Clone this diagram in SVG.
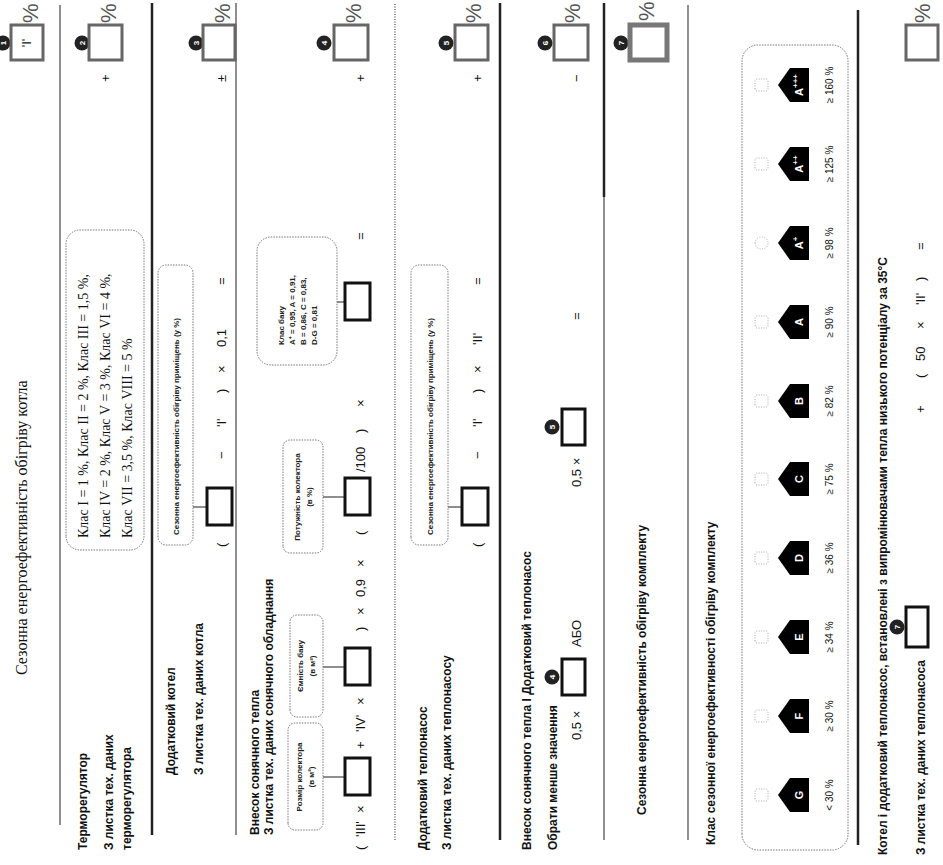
<svg xmlns="http://www.w3.org/2000/svg" width="943" height="865" viewBox="0 0 943 865">
<style>
.lbl{font-family:"Liberation Sans",Arial,sans-serif;font-size:12px;font-weight:bold;fill:#111}
.f{font-family:"Liberation Sans",Arial,sans-serif;font-size:13px;fill:#111}
.pc{font-family:"Liberation Sans",Arial,sans-serif;font-size:22px;fill:#555}
.ser{font-family:"Liberation Serif","Times New Roman",serif;fill:#111}
.sm{font-family:"Liberation Sans",Arial,sans-serif;font-size:8px;font-weight:bold;fill:#222}
.res{fill:#fff;stroke:#666;stroke-width:3}
.inp{fill:#fff;stroke:#111;stroke-width:3}
.dot{fill:none;stroke:#777;stroke-width:1;stroke-dasharray:1.5 1.2}
.thin{stroke:#444;stroke-width:1.2}
.thick{stroke:#222;stroke-width:2.5}
.mk{fill:#222}
.mkt{font-family:"Liberation Sans",Arial,sans-serif;font-size:8px;font-weight:bold;fill:#fff;text-anchor:middle}
.clt{font-family:"Liberation Sans",Arial,sans-serif;font-size:11px;font-weight:bold;fill:#fff;text-anchor:middle}
.chk{fill:none;stroke:#aaa;stroke-width:1;stroke-dasharray:1 1.5}
.pt{font-family:"Liberation Sans",Arial,sans-serif;font-size:10px;fill:#111;text-anchor:middle}
.mid{text-anchor:middle}
</style>
<defs>
<path id="house" d="M-17,31 L-17,12 L0,0 L17,12 L17,31 Z" fill="#000"/>
</defs>
<g transform="translate(0,865) rotate(-90)">

<g id="connectors">
<line class="thin" x1="40" y1="60" x2="860" y2="60"/>
<line class="thick" x1="30" y1="152" x2="862" y2="152"/>
<line class="thin" x1="30" y1="236" x2="862" y2="236" stroke-width="1.6"/>
<line class="thin" x1="25" y1="395" x2="862" y2="395" stroke-dasharray="1 1.5"/>
<line class="thick" x1="25" y1="500" x2="862" y2="500"/>
<line class="thin" x1="25" y1="604" x2="668" y2="604"/>
<line class="thick" x1="668" y1="604" x2="862" y2="604" stroke-width="3.5"/>
<line class="thin" x1="25" y1="688" x2="860" y2="688"/>
<line class="thick" x1="20" y1="858" x2="855" y2="858"/>
<line class="thin" x1="358" y1="193" x2="358" y2="207"/>
<line class="thin" x1="358" y1="448" x2="358" y2="462"/>
<line class="thin" x1="88" y1="323" x2="88" y2="345"/>
<line class="thin" x1="198" y1="323" x2="198" y2="345"/>
<line class="thin" x1="368" y1="323" x2="368" y2="345"/>
<line class="thin" x1="563" y1="337" x2="563" y2="345"/>
</g>

<g id="title"><text class="ser" x="190" y="27" font-size="16">Сезонна енергоефективність обігріву котла</text></g>
<g id="result-1">
<circle class="mk" cx="822" cy="3" r="7.5"/><text class="mkt" x="822" y="6">1</text>
<rect class="res" x="805" y="11" width="35" height="32"/>
<text class="f mid" x="822" y="31">'I'</text>
<text class="pc" x="842" y="38">%</text>
</g>

<g id="thermostat">
<text class="lbl" x="15" y="87">Терморегулятор</text>
<text class="lbl" x="15" y="113">З листка тех. даних</text>
<text class="lbl" x="15" y="131">терморегулятора</text>
</g>
<g id="thermostat-classes">
<rect class="dot" x="315" y="66" width="320" height="78" rx="14"/>
<text class="ser" font-size="14" x="327" y="88">Клас I = 1 %, Клас II = 2 %, Клас III = 1,5 %,</text>
<text class="ser" font-size="14" x="327" y="110">Клас IV = 2 %, Клас V = 3 %, Клас VI = 4 %,</text>
<text class="ser" font-size="14" x="327" y="132">Клас VII = 3,5 %, Клас VIII = 5 %</text>
</g>
<g id="result-2">
<text class="f" x="783" y="110">+</text>
<circle class="mk" cx="822" cy="82" r="7.5"/><text class="mkt" x="822" y="85">2</text>
<rect class="res" x="805" y="89" width="35" height="33"/>
<text class="pc" x="842" y="116">%</text>
</g>

<g id="boiler">
<text class="lbl" x="90" y="175">Додатковий котел</text>
<text class="lbl" x="90" y="203">З листка тех. даних котла</text>
</g>
<g id="boiler-label">
<rect class="dot" x="320" y="158" width="280" height="35" rx="8"/>
<text class="sm" x="330" y="179">Сезонна енергоефективність обігріву приміщень (у %)</text>
</g>
<g id="boiler-formula">
<text class="f" x="318" y="226">(</text>
<rect class="inp" x="340" y="207" width="37" height="25"/>
<text class="f" x="406" y="226">−</text>
<text class="f" x="438" y="226">'I'</text>
<text class="f" x="472" y="226">)</text>
<text class="f" x="492" y="226">×</text>
<text class="f" x="518" y="226">0,1</text>
<text class="f" x="580" y="226">=</text>
<text class="f" x="783" y="226">±</text>
</g>
<g id="result-3">
<circle class="mk" cx="822" cy="196" r="7.5"/><text class="mkt" x="822" y="199">3</text>
<rect class="res" x="805" y="203" width="35" height="32"/>
<text class="pc" x="842" y="230">%</text>
</g>

<g id="solar">
<text class="lbl" x="30" y="259" font-size="11">Внесок сонячного тепла</text>
<text class="lbl" x="30" y="273" font-size="11">З листка тех. даних сонячного обладнання</text>
</g>
<g id="solar-collector-size">
<rect class="dot" x="35" y="288" width="107" height="35" rx="7"/>
<text class="sm mid" x="88" y="302">Розмір колектора</text>
<text class="sm mid" x="88" y="314">(в м²)</text>
</g>
<g id="solar-tank-volume">
<rect class="dot" x="148" y="290" width="102" height="33" rx="7"/>
<text class="sm mid" x="199" y="303">Ємність баку</text>
<text class="sm mid" x="199" y="315">(в м³)</text>
</g>
<g id="solar-collector-eff">
<rect class="dot" x="312" y="283" width="113" height="40" rx="7"/>
<text class="sm mid" x="368" y="300">Потужність колектора</text>
<text class="sm mid" x="368" y="312">(в %)</text>
</g>
<g id="solar-tank-class">
<rect class="dot" x="500" y="257" width="128" height="80" rx="14"/>
<text class="sm" x="520" y="284">Клас баку</text>
<text class="sm" x="520" y="295">A⁺ = 0,95, A = 0,91,</text>
<text class="sm" x="520" y="306">B = 0,86, C = 0,83,</text>
<text class="sm" x="520" y="317">D-G = 0,81</text>
</g>
<g id="solar-formula">
<text class="f" x="15" y="365">(</text>
<text class="f" x="28" y="365">'III'</text>
<text class="f" x="52" y="365">×</text>
<rect class="inp" x="70" y="345" width="37" height="25"/>
<text class="f" x="116" y="365">+</text>
<text class="f" x="133" y="365">'IV'</text>
<text class="f" x="160" y="365">×</text>
<rect class="inp" x="180" y="345" width="37" height="25"/>
<text class="f" x="234" y="365">)</text>
<text class="f" x="250" y="365">×</text>
<text class="f" x="268" y="365">0,9</text>
<text class="f" x="298" y="365">×</text>
<text class="f" x="330" y="365">(</text>
<rect class="inp" x="350" y="345" width="37" height="25"/>
<text class="f" x="393" y="365">/100</text>
<text class="f" x="432" y="365">)</text>
<text class="f" x="458" y="365">×</text>
<rect class="inp" x="545" y="345" width="37" height="25"/>
<text class="f" x="625" y="365">=</text>
<text class="f" x="783" y="365">+</text>
</g>
<g id="result-4">
<circle class="mk" cx="822" cy="324" r="7.5"/><text class="mkt" x="822" y="327">4</text>
<rect class="res" x="805" y="334" width="35" height="34"/>
<text class="pc" x="842" y="361">%</text>
</g>

<g id="heatpump">
<text class="lbl" x="15" y="427">Додатковий теплонасос</text>
<text class="lbl" x="15" y="451">З листка тех. даних теплонасосу</text>
</g>
<g id="heatpump-label">
<rect class="dot" x="320" y="411" width="280" height="37" rx="8"/>
<text class="sm" x="330" y="433">Сезонна енергоефективність обігріву приміщень (у %)</text>
</g>
<g id="heatpump-formula">
<text class="f" x="318" y="482">(</text>
<rect class="inp" x="340" y="462" width="37" height="26"/>
<text class="f" x="406" y="482">−</text>
<text class="f" x="438" y="482">'I'</text>
<text class="f" x="472" y="482">)</text>
<text class="f" x="492" y="482">×</text>
<text class="f" x="520" y="482">'II'</text>
<text class="f" x="580" y="482">=</text>
<text class="f" x="783" y="482">+</text>
</g>
<g id="result-5">
<circle class="mk" cx="822" cy="446" r="7.5"/><text class="mkt" x="822" y="449">5</text>
<rect class="res" x="805" y="455" width="35" height="33"/>
<text class="pc" x="842" y="481">%</text>
</g>

<g id="solar-heatpump">
<text class="lbl" x="15" y="531">Внесок сонячного тепла І Додатковий теплонасос</text>
<text class="lbl" x="15" y="557">Обрати менше значення</text>
</g>
<g id="solar-heatpump-formula">
<text class="f" x="125" y="581">0,5 ×</text>
<circle class="mk" cx="188" cy="552" r="7.5"/><text class="mkt" x="188" y="555">4</text>
<rect class="inp" x="170" y="562" width="36" height="23"/>
<text class="f" x="218" y="581">АБО</text>
<text class="f" x="378" y="581">0,5 ×</text>
<circle class="mk" cx="438" cy="552" r="7.5"/><text class="mkt" x="438" y="555">5</text>
<rect class="inp" x="420" y="562" width="36" height="23"/>
<text class="f" x="545" y="581">=</text>
<text class="f" x="783" y="581">−</text>
</g>
<g id="result-6">
<circle class="mk" cx="822" cy="545" r="7.5"/><text class="mkt" x="822" y="548">6</text>
<rect class="res" x="805" y="554" width="35" height="34"/>
<text class="pc" x="842" y="580">%</text>
</g>

<g id="package">
<text class="lbl" x="50" y="646">Сезонна енергоефективність обігріву комплекту</text>
</g>
<g id="result-7">
<circle class="mk" cx="822" cy="621" r="7.5"/><text class="mkt" x="822" y="624">7</text>
<rect x="805" y="630" width="35" height="37" fill="#fff" stroke="#777" stroke-width="5"/>
<text class="pc" x="844" y="654">%</text>
</g>

<g id="package-class">
<text class="lbl" x="20" y="715" font-size="11">Клас сезонної енергоефективності обігріву комплекту</text>
<rect class="dot" x="15" y="742" width="805" height="106" rx="16"/>
</g>
<g id="class-G"><rect class="chk" x="64" y="755" width="12" height="13" rx="2"/><use href="#house" x="70" y="778"/><text class="clt" x="70" y="803">G</text><text class="pt" x="70" y="833">&lt; 30 %</text></g>
<g id="class-F"><rect class="chk" x="143" y="755" width="12" height="13" rx="2"/><use href="#house" x="149" y="778"/><text class="clt" x="149" y="803">F</text><text class="pt" x="149" y="833">≥ 30 %</text></g>
<g id="class-E"><rect class="chk" x="222" y="755" width="12" height="13" rx="2"/><use href="#house" x="228" y="778"/><text class="clt" x="228" y="803">E</text><text class="pt" x="228" y="833">≥ 34 %</text></g>
<g id="class-D"><rect class="chk" x="301" y="755" width="12" height="13" rx="2"/><use href="#house" x="307" y="778"/><text class="clt" x="307" y="803">D</text><text class="pt" x="307" y="833">≥ 36 %</text></g>
<g id="class-C"><rect class="chk" x="380" y="755" width="12" height="13" rx="2"/><use href="#house" x="386" y="778"/><text class="clt" x="386" y="803">C</text><text class="pt" x="386" y="833">≥ 75 %</text></g>
<g id="class-B"><rect class="chk" x="458" y="755" width="12" height="13" rx="2"/><use href="#house" x="464" y="778"/><text class="clt" x="464" y="803">B</text><text class="pt" x="464" y="833">≥ 82 %</text></g>
<g id="class-A"><rect class="chk" x="537" y="755" width="12" height="13" rx="2"/><use href="#house" x="543" y="778"/><text class="clt" x="543" y="803">A</text><text class="pt" x="543" y="833">≥ 90 %</text></g>
<g id="class-A1"><rect class="chk" x="616" y="755" width="12" height="13" rx="6"/><use href="#house" x="622" y="778"/><text class="clt" x="622" y="803">A<tspan font-size="8" dy="-5">+</tspan></text><text class="pt" x="622" y="833">≥ 98 %</text></g>
<g id="class-A2"><rect class="chk" x="695" y="755" width="12" height="13" rx="2"/><use href="#house" x="701" y="778"/><text class="clt" x="701" y="803">A<tspan font-size="8" dy="-5">++</tspan></text><text class="pt" x="701" y="833">≥ 125 %</text></g>
<g id="class-A3"><rect class="chk" x="774" y="755" width="12" height="13" rx="2"/><use href="#house" x="780" y="778"/><text class="clt" x="780" y="803">A<tspan font-size="8" dy="-5">+++</tspan></text><text class="pt" x="780" y="833">≥ 160 %</text></g>

<g id="lowtemp">
<text class="lbl" x="10" y="887" font-size="11">Котел і додатковий теплонасос, встановлені з випромінювачами тепла низького потенціалу за 35°C</text>
<text class="lbl" x="10" y="925" font-size="11">З листка тех. даних теплонасоса</text>
</g>
<g id="lowtemp-formula">
<circle class="mk" cx="238" cy="897" r="7.5"/><text class="mkt" x="238" y="900">7</text>
<rect class="inp" x="218" y="906" width="40" height="22"/>
<text class="f" x="452" y="925">+</text>
<text class="f" x="487" y="925">(</text>
<text class="f" x="504" y="925">50</text>
<text class="f" x="536" y="925">×</text>
<text class="f" x="560" y="925">'II'</text>
<text class="f" x="584" y="925">)</text>
<text class="f" x="615" y="925">=</text>
</g>
<g id="result-final">
<rect class="res" x="805" y="906" width="35" height="32"/>
<text class="pc" x="842" y="930">%</text>
</g>

</g>
</svg>
